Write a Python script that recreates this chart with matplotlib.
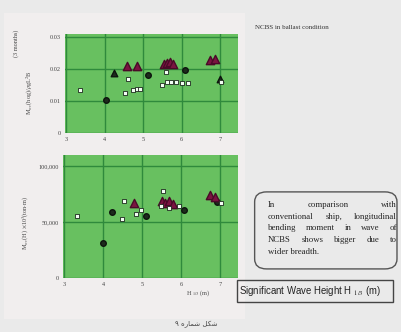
import matplotlib as mpl
mpl.use('Agg')
import matplotlib.pyplot as plt
from matplotlib.patches import FancyBboxPatch, Rectangle

## data
xticks = [3, 4, 5, 6, 7]

# upper panel : M_wv(hog) / rho g L^2 B
top_yticks = [0, 0.01, 0.02, 0.03]
top_ylabels = ['0', '0.01', '0.02', '0.03']
top_circ_x = [4.04, 5.13, 6.09]
top_circ_y = [0.0103, 0.0180, 0.0197]
top_btri_x = [4.25, 7.0]
top_btri_y = [0.0188, 0.0170]
top_rtri_x = [4.58, 4.85, 5.55, 5.62, 5.70, 5.78, 6.74, 6.87]
top_rtri_y = [0.0210, 0.0210, 0.0215, 0.0220, 0.0222, 0.0215, 0.0228, 0.0230]
top_sq_x = [3.36, 4.53, 4.60, 4.73, 4.85, 4.92, 5.49, 5.60, 5.62, 5.72, 5.85, 6.00, 6.17, 7.03]
top_sq_y = [0.0134, 0.0125, 0.0168, 0.0134, 0.0137, 0.0139, 0.0150, 0.0190, 0.0160,
            0.0160, 0.0160, 0.0157, 0.0157, 0.0160]

# lower panel : M_wv(H)
bot_yticks = [0, 50000, 100000]
bot_ylabels = ['0', '50,000', '100,000']
bot_circ_x = [4.01, 4.22, 5.10, 6.07, 6.92]
bot_circ_y = [31500, 58600, 55800, 61000, 68000]
bot_rtri_x = [4.79, 5.52, 5.60, 5.70, 5.80, 6.74, 6.87]
bot_rtri_y = [66700, 69000, 67500, 68500, 66000, 74000, 72000]
bot_sq_x = [3.34, 4.48, 4.53, 4.84, 4.97, 5.49, 5.55, 5.70, 5.96, 7.03]
bot_sq_y = [55000, 53000, 68500, 57600, 61000, 64000, 78000, 63000, 64000, 66700]

title_txt = "NCBS in ballast condition"
note_lines = ["In comparison with",
              "conventional ship, longitudinal",
              "bending moment in wave of",
              "NCBS shows bigger due to",
              "wider breadth."]
hs_txt = r"Significant Wave Height H $_{1/3}$ (m)"
# "شکل شماره ۹" written in visual order with presentation forms
fig_caption = "\u06f9 \ufee9\ufead\ufe8e\ufee4\ufeb7 \ufede\ufb91\ufeb7"

plt.rcParams['font.family'] = ['Liberation Serif', 'DejaVu Sans']
plt.rcParams['mathtext.fontset'] = 'stix'

green = '#68c060'
grid_green = '#2f8a3c'
paper = '#eaeaea'
txt = '#444444'

fig = plt.figure(figsize=(4.01, 3.32), dpi=100)
fig.patch.set_facecolor(paper)

# slightly lighter sheet behind the plots
fig.patches.append(Rectangle((0.01, 0.04), 0.6, 0.92, transform=fig.transFigure,
                             facecolor='#f1eeee', edgecolor='none', zorder=-5))


def style(ax, yticks, ylabels, ylim):
    ax.set_zorder(2)
    ax.set_facecolor(green)
    ax.set_xlim(2.97, 7.47)
    ax.set_ylim(*ylim)
    ax.set_xticks(xticks)
    ax.set_xticklabels([str(t) for t in xticks], fontsize=4.5, color=txt)
    ax.set_yticks(yticks)
    ax.set_yticklabels(ylabels, fontsize=4.5, color=txt)
    ax.tick_params(length=0, pad=3)
    ax.grid(True, color=grid_green, linewidth=1.0)
    ax.set_axisbelow(True)
    for s in ax.spines.values():
        s.set_visible(False)


def points(ax, cx, cy, rx, ry, sx, sy, bx=None, by=None):
    ax.scatter(cx, cy, s=16, marker='o', color='#1d2a1d', edgecolors='#0d150d', zorder=3)
    if bx is not None:
        ax.scatter(bx, by, s=22, marker='^', color='#1d2a1d', edgecolors='#0d150d', zorder=3)
    ax.scatter(rx, ry, s=36, marker='^', color='#7a1440', edgecolors='#4a0a28', zorder=3)
    ax.scatter(sx, sy, s=9, marker='s', color='#f4fff4', edgecolors='#1d2a1d',
               linewidths=0.6, zorder=4)


ax1 = fig.add_axes([0.162, 0.599, 0.432, 0.299])
style(ax1, top_yticks, top_ylabels, (0, 0.031))
points(ax1, top_circ_x, top_circ_y, top_rtri_x, top_rtri_y, top_sq_x, top_sq_y,
       top_btri_x, top_btri_y)

ax2 = fig.add_axes([0.157, 0.163, 0.437, 0.370])
style(ax2, bot_yticks, bot_ylabels, (0, 110000))
points(ax2, bot_circ_x, bot_circ_y, bot_rtri_x, bot_rtri_y, bot_sq_x, bot_sq_y)

# axis labels
fig.text(0.040, 0.87, "(3 months)", rotation=90, fontsize=4.5, ha='center', va='center',
         color=txt)
fig.text(0.075, 0.72, r"M$_{wv}$(hog)/$\rho$gL$^2$B", rotation=90, fontsize=4.5,
         ha='center', va='center', color=txt)
fig.text(0.065, 0.33, r"M$_{wv}$(H) $\times$10$^3$(ton$\cdot$m)", rotation=90,
         fontsize=4.5, ha='center', va='center', color=txt)
fig.text(0.495, 0.118, r"H $_{1/3}$ (m)", fontsize=4.5, ha='center', va='center',
         color=txt)

fig.text(0.636, 0.918, title_txt, fontsize=5, ha='left', va='center', color='#333333')

# rounded note box with justified text
fig.patches.append(FancyBboxPatch((0.635, 0.19), 0.355, 0.232,
                                  boxstyle='round,pad=0,rounding_size=0.03',
                                  transform=fig.transFigure, facecolor='none',
                                  edgecolor='#555555', linewidth=1.0))
left, right = 0.668, 0.990
fig.canvas.draw()
r = fig.canvas.get_renderer()
for i, line in enumerate(note_lines):
    yy = 0.382 - i * 0.035
    words = line.split()
    if i == len(note_lines) - 1:
        fig.text(left, yy, line, fontsize=6.3, ha='left', va='center', color='#222222')
        continue
    objs = [fig.text(0, yy, w, fontsize=6.3, ha='left', va='center', color='#222222')
            for w in words]
    widths = [o.get_window_extent(r).width / fig.bbox.width for o in objs]
    gap = (right - left - sum(widths)) / (len(words) - 1)
    xx = left
    for o, w in zip(objs, widths):
        o.set_x(xx)
        xx += w + gap

# significant wave height box
fig.patches.append(Rectangle((0.592, 0.09), 0.388, 0.068, transform=fig.transFigure,
                             facecolor='none', edgecolor='#444444', linewidth=1.0))
fig.text(0.596, 0.124, hs_txt, fontsize=6.9, ha='left', va='center', color='#222222',
         family=['Liberation Sans', 'DejaVu Sans'])

fig.text(0.49, 0.022, fig_caption, fontsize=5, ha='center', va='center', color=txt,
         family=['DejaVu Sans'])

fig.savefig('out.png', dpi=100, facecolor=fig.get_facecolor())
